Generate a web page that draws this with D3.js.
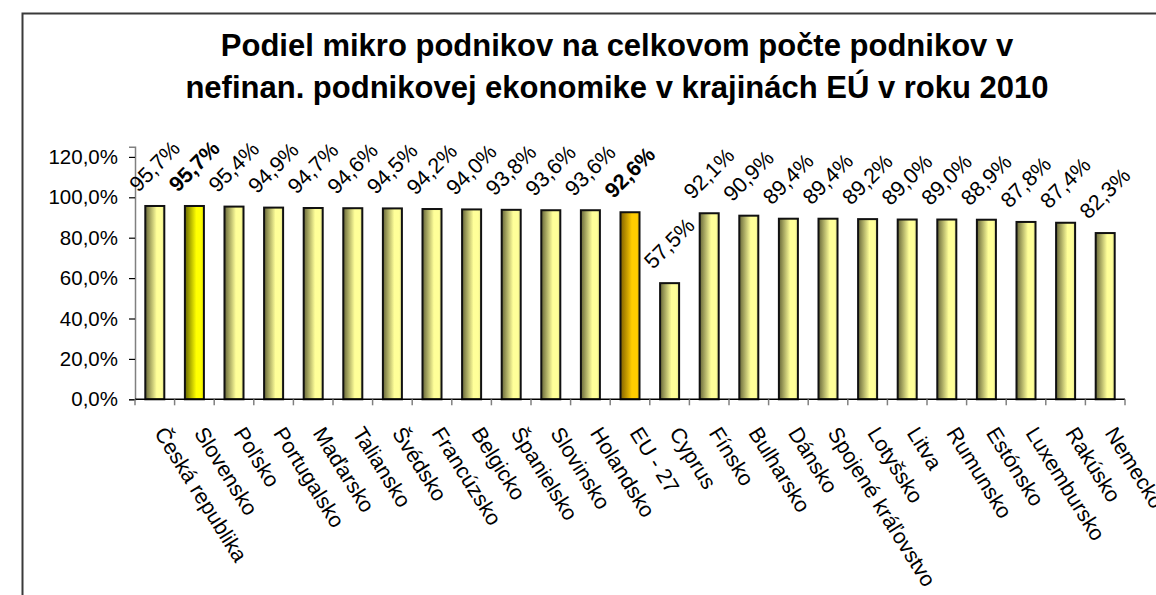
<!DOCTYPE html>
<html>
<head>
<meta charset="utf-8">
<script src="https://cdn.jsdelivr.net/npm/d3@7"></script>
<style>
  html, body { margin: 0; padding: 0; background: #fff; }
  svg { display: block; font-family: "Liberation Sans", Arial, sans-serif; }
</style>
</head>
<body>
<svg id="chart" width="1156" height="595"></svg>
<script>
// Share of micro enterprises in the non-financial business economy, EU countries, 2010
const categories = ["Česká republika", "Slovensko", "Poľsko", "Portugalsko", "Maďarsko", "Taliansko",
  "Švédsko", "Francúzsko", "Belgicko", "Španielsko", "Slovinsko", "Holandsko", "EU - 27", "Cyprus",
  "Fínsko", "Bulharsko", "Dánsko", "Spojené kráľovstvo", "Lotyšsko", "Litva", "Rumunsko", "Estónsko",
  "Luxembursko", "Rakúsko", "Nemecko"];
const values = [95.7, 95.7, 95.4, 94.9, 94.7, 94.6, 94.5, 94.2, 94.0, 93.8, 93.6, 93.6, 92.6, 57.5,
  92.1, 90.9, 89.4, 89.4, 89.2, 89.0, 89.0, 88.9, 87.8, 87.4, 82.3];
const yTicks = [0, 20, 40, 60, 80, 100, 120];
const yMax = 125;
const titleLines = ["Podiel mikro podnikov na celkovom počte podnikov v",
  "nefinan. podnikovej ekonomike v krajinách EÚ v roku 2010"];

const svg = d3.select("#chart");
const fmt = v => d3.format(".1f")(v).replace(".", ",") + "%";

// outer frame (left and top edges)
svg.append("path")
  .attr("d", "M22.5,595 V13.5 H1156")
  .attr("fill", "none").attr("stroke", "#3a3a3a").attr("stroke-width", 2);

// title
svg.append("g").selectAll("text").data(titleLines).join("text")
  .attr("x", 617).attr("y", (d, i) => 56 + i * 42)
  .attr("text-anchor", "middle")
  .attr("font-size", 31).attr("font-weight", "bold").attr("fill", "#000")
  .text(d => d);

const plot = { left: 135, right: 1125, top: 146.8, bottom: 399.3 };

const x = d3.scaleBand().domain(categories).range([plot.left, plot.right]).paddingInner(0.52).paddingOuter(0.26);
const band = d3.scaleBand().domain(categories).range([plot.left, plot.right]);
const y = d3.scaleLinear().domain([0, yMax]).range([plot.bottom, plot.top]);

// bar gradients
const defs = svg.append("defs");
function grad(id, dark, light, edge) {
  const g = defs.append("linearGradient").attr("id", id).attr("x1", 0).attr("x2", 1).attr("y1", 0).attr("y2", 0);
  g.append("stop").attr("offset", "0%").attr("stop-color", dark);
  g.append("stop").attr("offset", "60%").attr("stop-color", light);
  g.append("stop").attr("offset", "85%").attr("stop-color", light);
  g.append("stop").attr("offset", "100%").attr("stop-color", edge);
}
grad("gNormal", "#666638", "#ffff99", "#e0e08a");
grad("gSk", "#666600", "#ffff00", "#e6e600");
grad("gEu", "#806000", "#ffcc00", "#e6b800");

const fillFor = c => c === "Slovensko" ? "url(#gSk)" : c === "EU - 27" ? "url(#gEu)" : "url(#gNormal)";
const boldFor = c => c === "Slovensko" || c === "EU - 27";

// y axis
const yAxis = d3.axisLeft(y).tickValues(yTicks).tickSize(6).tickPadding(11)
  .tickFormat(d => d3.format(".1f")(d).replace(".", ",") + "%");
const gy = svg.append("g").attr("transform", `translate(${plot.left},0)`).call(yAxis);
gy.select(".domain").attr("stroke", "#808080").attr("stroke-width", 1.5);
gy.selectAll(".tick line").attr("stroke", "#000").attr("stroke-width", 1.2);
gy.selectAll(".tick text").attr("font-size", 20.5).attr("fill", "#000")
  .attr("font-family", "Liberation Sans, Arial, sans-serif");

// bars
const data = categories.map((c, i) => ({ c, v: values[i] }));
svg.append("g").selectAll("rect").data(data).join("rect")
  .attr("x", d => x(d.c)).attr("width", x.bandwidth())
  .attr("y", d => y(d.v)).attr("height", d => y(0) - y(d.v))
  .attr("fill", d => fillFor(d.c))
  .attr("stroke", "#111").attr("stroke-width", 2);

// x axis with tick marks on category boundaries
svg.append("line").attr("x1", plot.left).attr("x2", plot.right).attr("y1", plot.bottom).attr("y2", plot.bottom)
  .attr("stroke", "#000").attr("stroke-width", 1.5);
const bounds = categories.map(c => band(c)).concat([plot.right]);
svg.append("g").selectAll("line").data(bounds).join("line")
  .attr("x1", d => d).attr("x2", d => d).attr("y1", plot.bottom).attr("y2", plot.bottom + 6)
  .attr("stroke", "#808080").attr("stroke-width", 1.5);

// category labels, rotated downward
svg.append("g").selectAll("text").data(categories).join("text")
  .attr("transform", c => `translate(${band(c) + band.bandwidth() / 2 + 5},${plot.bottom + 30}) rotate(58)`)
  .attr("dominant-baseline", "central")
  .attr("font-size", 21.5).attr("fill", "#000")
  .text(c => c);

// value labels, rotated upward above each bar
const lbl = svg.append("g").selectAll("g").data(data).join("g");
lbl.append("text")
  .attr("text-anchor", "middle").attr("dominant-baseline", "central")
  .attr("font-size", 21.5).attr("font-weight", d => boldFor(d.c) ? "bold" : "normal")
  .attr("fill", "#000")
  .text(d => fmt(d.v));
lbl.attr("transform", function (d) {
  const w = this.querySelector("text").getComputedTextLength();
  const h = (w + 17) * Math.SQRT1_2;
  const cx = band(d.c) + band.bandwidth() / 2;
  return `translate(${cx},${y(d.v) - 12 - h / 2}) rotate(-45)`;
});
</script>
</body>
</html>
